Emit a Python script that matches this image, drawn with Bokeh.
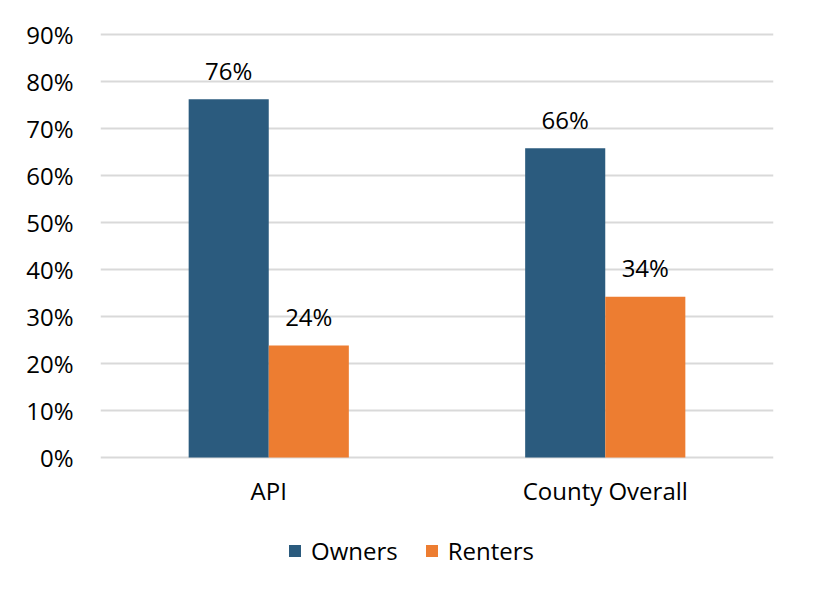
from bokeh.plotting import figure
from bokeh.models import ColumnDataSource, FactorRange, Range1d, FixedTicker, Legend
from bokeh.transform import dodge
from bokeh.core.properties import value
from bokeh.embed import file_html
from bokeh.resources import INLINE

categories = ["API", "County Overall"]
owners = [76.2, 65.8]
renters = [23.8, 34.2]
series_names = ["Owners", "Renters"]
y_ticks = [0, 10, 20, 30, 40, 50, 60, 70, 80, 90]
y_tick_labels = ["0%", "10%", "20%", "30%", "40%", "50%", "60%", "70%", "80%", "90%"]

BLUE = "#2B5B7E"
ORANGE = "#ED7D31"
FONT = "Open Sans"

src = ColumnDataSource(dict(
    cat=categories,
    base=[0] * len(categories),
    owners=owners,
    renters=renters,
    owners_lbl=[f"{round(v)}%" for v in owners],
    renters_lbl=[f"{round(v)}%" for v in renters],
))

p = figure(frame_width=673, frame_height=560, x_range=FactorRange(*categories, range_padding=0),
           y_range=Range1d(-28.72, 90.4), output_backend="svg", toolbar_location=None,
           min_border_left=100, min_border_right=33, min_border_top=32, min_border_bottom=0)
p.outline_line_color = None
p.background_fill_color = "white"
p.border_fill_color = "white"

bw = 0.238
r1 = p.vbar(x=dodge("cat", -bw / 2, range=p.x_range), top="owners", width=bw, source=src,
            fill_color=BLUE, line_color=None)
r2 = p.vbar(x=dodge("cat", bw / 2, range=p.x_range), top="renters", width=bw, source=src,
            fill_color=ORANGE, line_color=None)

p.text(x=dodge("cat", -bw / 2, range=p.x_range), y="owners", text="owners_lbl", source=src,
       text_align="center", text_baseline="alphabetic", y_offset=-29,
       text_font=value(FONT), text_font_size="24px", text_color="black")
p.text(x=dodge("cat", bw / 2, range=p.x_range), y="renters", text="renters_lbl", source=src,
       text_align="center", text_baseline="alphabetic", y_offset=-29,
       text_font=value(FONT), text_font_size="24px", text_color="black")

# category labels under the baseline
p.text(x="cat", y="base", text="cat", source=src,
       text_align="center", text_baseline="alphabetic", y_offset=33,
       text_font=value(FONT), text_font_size="24px", text_color="black")

p.xaxis.visible = False
p.xgrid.grid_line_color = None
p.ygrid.grid_line_color = "#D9D9D9"
p.ygrid.grid_line_width = 2
p.ygrid.ticker = FixedTicker(ticks=y_ticks)
p.yaxis.ticker = FixedTicker(ticks=y_ticks)
p.yaxis.major_label_overrides = {t: l for t, l in zip(y_ticks, y_tick_labels)}

ax = p.yaxis[0]
ax.axis_line_color = None
ax.major_tick_line_color = None
ax.minor_tick_line_color = None
ax.major_tick_out = 0
ax.major_tick_in = 0
ax.major_label_text_font = FONT
ax.major_label_text_font_size = "24px"
ax.major_label_text_color = "black"
ax.major_label_standoff = 27

legend = Legend(items=[(series_names[0], [r1]), (series_names[1], [r2])],
                orientation="horizontal", location=(187, 25),
                label_text_font=FONT, label_text_font_size="24px", label_text_color="black",
                glyph_width=15, glyph_height=15, label_standoff=9, spacing=26,
                padding=0, margin=0, border_line_color=None, background_fill_alpha=0)
p.add_layout(legend, "center")

open("out.html", "w").write(file_html(p, INLINE))
